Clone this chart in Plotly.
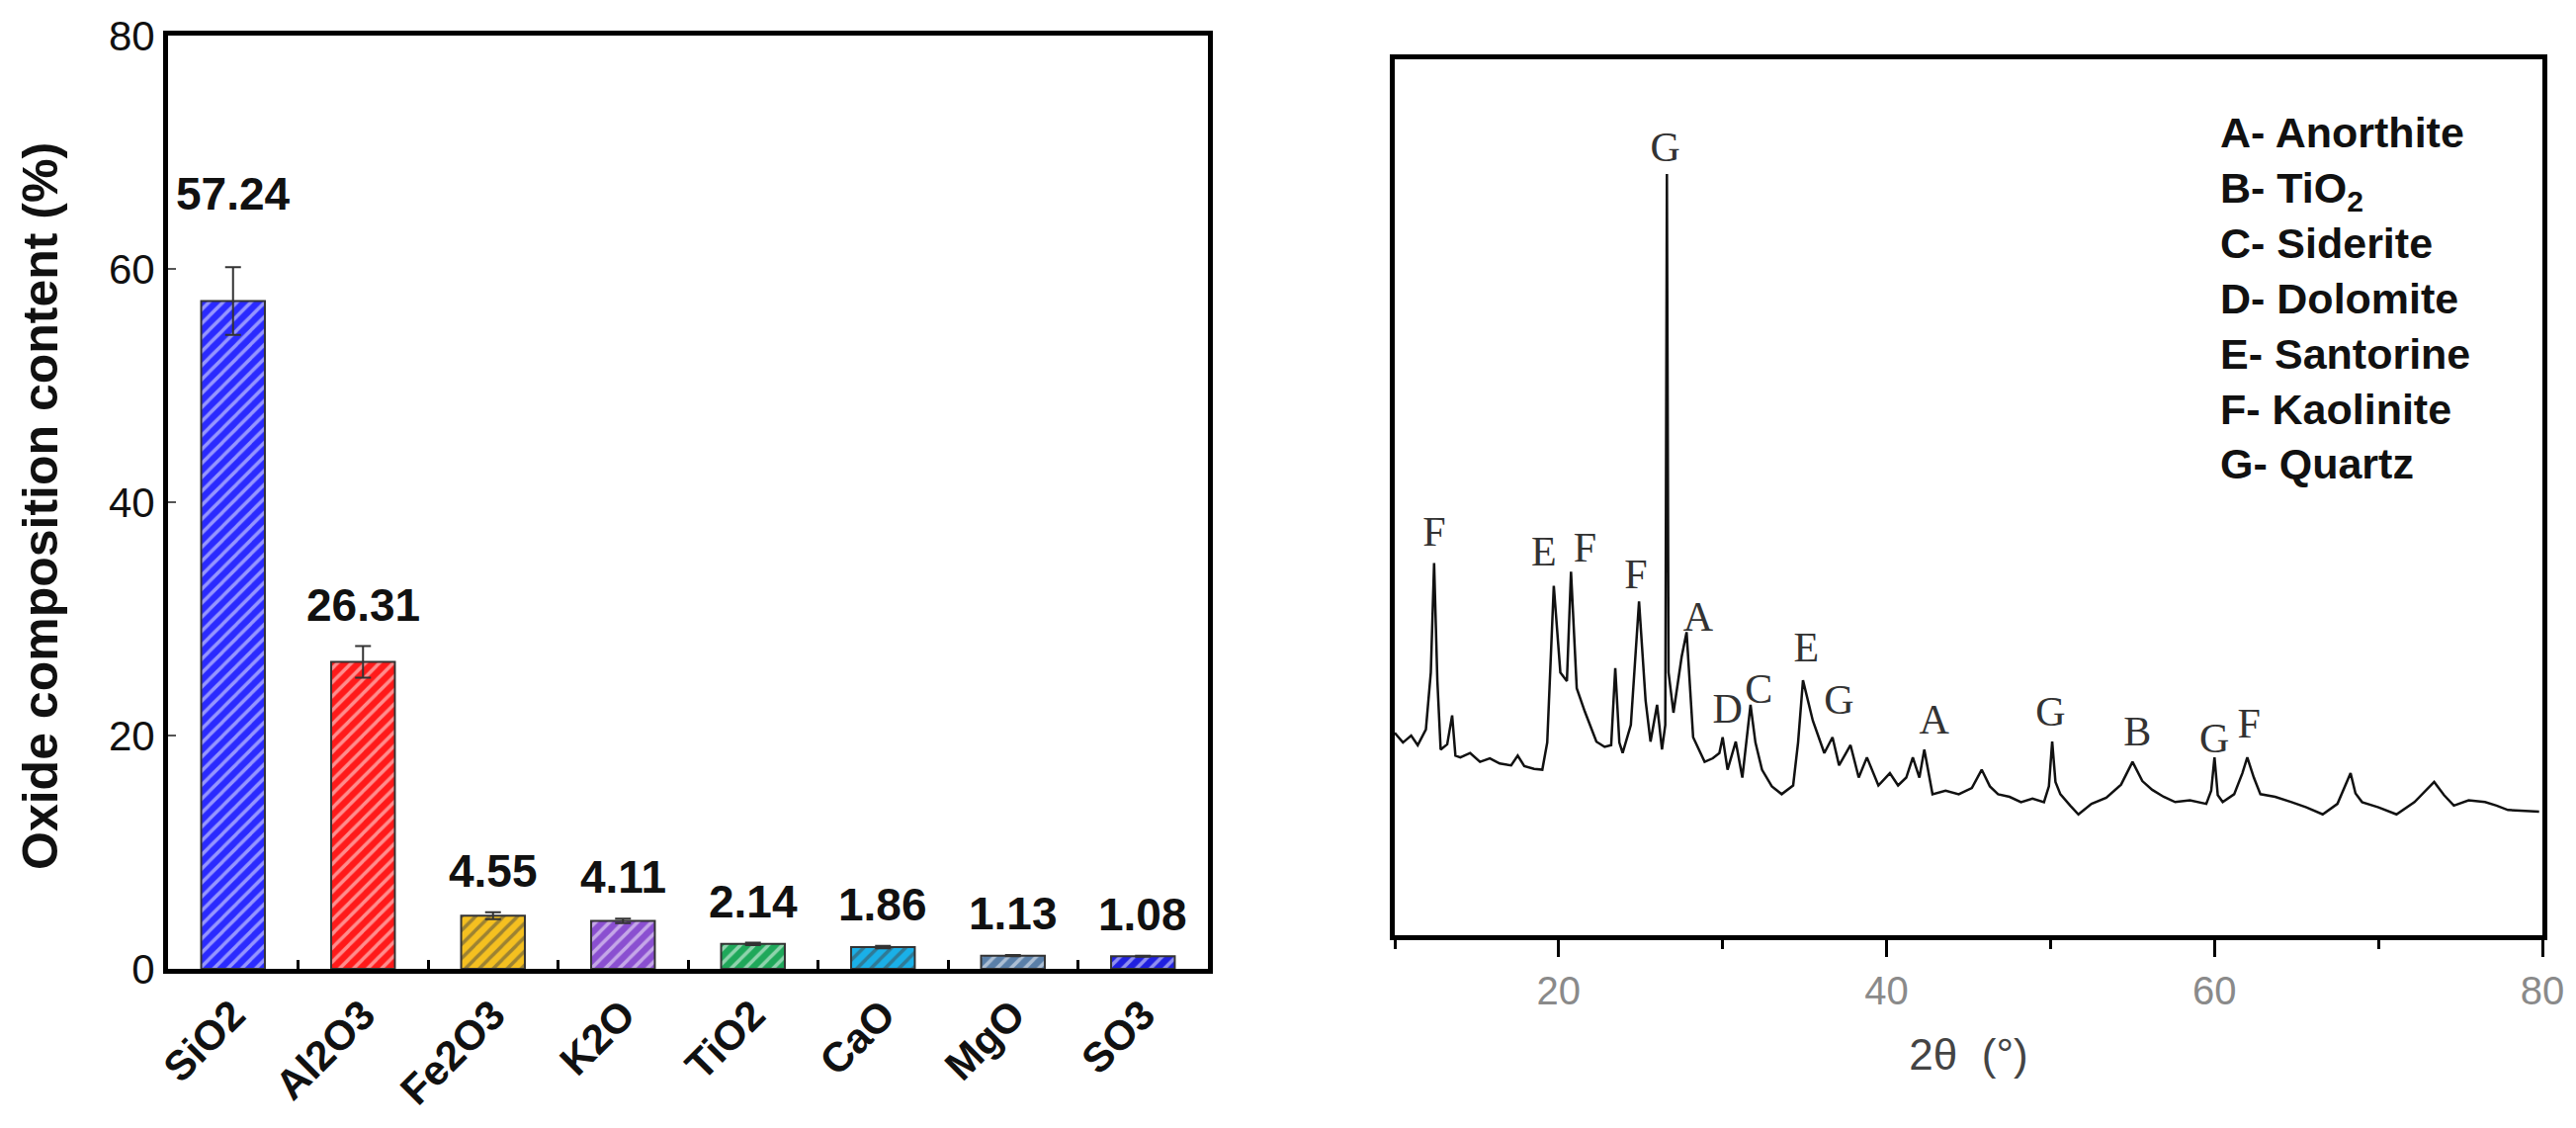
import plotly.graph_objects as go

# oxide composition (left panel)
oxides = ["SiO2", "Al2O3", "Fe2O3", "K2O", "TiO2", "CaO", "MgO", "SO3"]
contents = [57.24, 26.31, 4.55, 4.11, 2.14, 1.86, 1.13, 1.08]
errors = [2.9, 1.35, 0.3, 0.2, 0.1, 0.1, 0.05, 0.05]
bar_colors = ["#2a2aff", "#ff1a1a", "#f5c020", "#8a4fd0",
              "#1fa85a", "#1ab0e8", "#5a7fa8", "#2020e0"]

# XRD pattern (right panel)
two_theta = [10.0, 10.5, 11.0, 11.4, 11.9, 12.2, 12.4, 12.6, 12.8, 13.2, 13.5, 13.7, 14.0,
             14.6, 15.2, 15.8, 16.4, 17.1, 17.5, 17.9, 18.5, 19.0, 19.3, 19.7, 20.1, 20.5,
             20.75, 21.1, 21.6, 22.3, 22.8, 23.2, 23.45, 23.7, 23.9, 24.4, 24.9, 25.3, 25.6,
             26.0, 26.3, 26.5, 26.6, 26.7, 27.0, 27.5, 27.8, 28.0, 28.2, 28.9, 29.4, 29.8,
             30.0, 30.3, 30.8, 31.2, 31.7, 32.0, 32.4, 33.0, 33.6, 34.3, 34.6, 34.9, 35.5,
             36.2, 36.7, 37.1, 37.8, 38.3, 38.8, 39.5, 40.2, 40.7, 41.2, 41.6, 42.0, 42.3,
             42.8, 43.6, 44.4, 45.2, 45.8, 46.3, 46.8, 47.5, 48.2, 48.9, 49.6, 49.9, 50.1,
             50.3, 50.6, 51.2, 51.7, 52.5, 53.4, 54.3, 55.0, 55.6, 56.2, 56.9, 57.6, 58.5,
             59.5, 59.8, 60.0, 60.2, 60.5, 61.2, 61.7, 62.0, 62.4, 62.8, 63.7, 64.7, 65.6,
             66.6, 67.5, 68.3, 68.6, 69.0, 70.0, 71.1, 72.2, 73.4, 74.0, 74.6, 75.5, 76.5,
             77.2, 77.9, 78.8, 79.8]
intensity = [23.1, 22.0, 22.8, 21.7, 23.5, 30.0, 42.5, 29.0, 21.2, 21.8, 25.1, 20.5, 20.3,
             20.8, 19.8, 20.2, 19.6, 19.4, 20.5, 19.3, 19.0, 18.9, 22.0, 39.9, 30.0, 29.0,
             41.5, 28.2, 25.5, 22.1, 21.5, 21.7, 30.5, 22.0, 20.8, 24.0, 38.1, 26.8, 22.1,
             26.3, 21.2, 24.0, 86.9, 30.0, 25.4, 31.8, 34.6, 29.0, 22.6, 19.8, 20.2, 20.8,
             22.6, 18.9, 22.1, 18.0, 26.3, 22.0, 18.9, 17.0, 16.1, 17.1, 22.0, 29.1, 24.5,
             20.8, 22.6, 19.4, 21.7, 18.0, 20.3, 17.1, 18.5, 17.1, 18.0, 20.3, 18.0, 21.2,
             16.1, 16.5, 16.1, 16.8, 18.9, 17.0, 16.1, 15.8, 15.2, 15.6, 15.2, 17.0, 22.1,
             17.5, 16.1, 14.8, 13.8, 15.0, 15.7, 17.2, 19.8, 17.6, 16.6, 15.8, 15.2, 15.4,
             15.0, 16.5, 20.3, 16.0, 15.2, 16.1, 18.5, 20.3, 18.0, 16.1, 15.8, 15.2, 14.6,
             13.8, 15.0, 18.5, 16.2, 15.2, 14.6, 13.8, 15.2, 17.5, 16.0, 14.8, 15.4, 15.2,
             14.8, 14.3, 14.2, 14.1]

peak_letters = ["F", "E", "F", "F", "G", "A", "D", "C", "E", "G", "A", "G", "B", "G", "F"]
peak_theta = [12.4, 19.1, 21.6, 24.7, 26.5, 28.5, 30.3, 32.2, 35.1, 37.1, 42.9, 50.0, 55.3, 60.0, 62.1]
peak_label_y = [45.7, 43.4, 43.8, 40.8, 89.6, 36.0, 25.4, 27.7, 32.5, 26.5, 24.2, 25.1, 22.8, 22.1, 23.8]

phases = ["A- Anorthite", "B- TiO<sub>2</sub>", "C- Siderite", "D- Dolomite",
          "E- Santorine", "F- Kaolinite", "G- Quartz"]

W, H = 2606, 1141
OFF = 8  # the page body adds an 8px margin
narrow = "Liberation Sans Narrow, Arial Narrow, Liberation Sans, Arial"
sans = "Liberation Sans, Arial"
serif = "Liberation Serif, Times New Roman"


def px_x(x):
    return (x - OFF) / W


def px_y(y):
    return 1 - (y - OFF) / H


fig = go.Figure()

fig.add_trace(go.Bar(
    x=oxides, y=contents,
    width=0.49,
    marker=dict(
        color=bar_colors,
        line=dict(color="#333333", width=2),
        pattern=dict(shape="/", fgcolor="white", size=10, solidity=0.35, fillmode="overlay"),
    ),
    error_y=dict(type="data", array=errors, color="#333333", thickness=2, width=8),
    xaxis="x", yaxis="y",
    showlegend=False,
))

fig.add_trace(go.Scatter(
    x=two_theta, y=intensity,
    mode="lines",
    line=dict(color="#111111", width=2.5),
    xaxis="x2", yaxis="y2",
    showlegend=False,
))

fig.add_trace(go.Scatter(
    x=peak_theta, y=peak_label_y,
    mode="text", text=peak_letters,
    textfont=dict(family=serif, size=42, color="#333333"),
    xaxis="x2", yaxis="y2",
    showlegend=False,
))

annotations = []
# value labels above the bars (the SiO2 one sits higher in the original)
for ox, v, e in zip(oxides, contents, errors):
    annotations.append(dict(
        x=ox, y=v + e, xref="x", yref="y",
        text="%.2f" % v, showarrow=False,
        yanchor="bottom", yshift=46 if ox == "SiO2" else 14,
        font=dict(family=sans, size=46, color="#111111", weight="bold"),
    ))

annotations.append(dict(
    x=px_x(41), y=px_y(512), xref="paper", yref="paper",
    xanchor="center", yanchor="middle",
    text="<b>Oxide composition content (%)</b>", textangle=-90,
    showarrow=False, font=dict(family=sans, size=50, color="#111111"),
))

annotations.append(dict(
    x=px_x(2244), y=px_y(108), xref="paper", yref="paper",
    xanchor="left", yanchor="top", align="left",
    text="<br>".join("<b>%s</b>" % p for p in phases),
    showarrow=False,
    font=dict(family=narrow, size=43, color="#111111"),
))

frame = dict(showline=True, linecolor="black", linewidth=5, mirror=True,
             showgrid=False, zeroline=False, automargin=False)

fig.update_layout(
    width=W, height=H,
    margin=dict(l=0, r=0, t=0, b=0),
    paper_bgcolor="white", plot_bgcolor="white",
    annotations=annotations,
    xaxis=dict(
        domain=[px_x(170), px_x(1222)], anchor="y",
        tickson="boundaries", ticks="inside", ticklen=9, tickwidth=3, tickcolor="black",
        tickangle=-45,
        tickfont=dict(family=sans, size=42, color="#111111", weight="bold"),
        **frame,
    ),
    yaxis=dict(
        domain=[px_y(980), px_y(36)], anchor="x",
        range=[0, 80], tickvals=[0, 20, 40, 60, 80],
        ticks="inside", ticklen=8, tickwidth=2, tickcolor="#555555",
        tickfont=dict(family=narrow, size=42, color="#111111"),
        **frame,
    ),
    xaxis2=dict(
        domain=[px_x(1411), px_x(2572)], anchor="y2",
        range=[10, 80], tick0=0, dtick=20,
        ticks="outside", ticklen=17, tickwidth=3, tickcolor="black",
        minor=dict(dtick=10, tick0=0, ticks="outside", ticklen=9, tickwidth=3, tickcolor="black"),
        tickfont=dict(family=narrow, size=40, color="#8a8a8a"),
        title=dict(text="2θ  (°)", standoff=30,
                   font=dict(family=narrow, size=44, color="#444444")),
        **frame,
    ),
    yaxis2=dict(
        domain=[px_y(946), px_y(60)], anchor="x2",
        range=[0, 100], showticklabels=False, ticks="",
        **frame,
    ),
)

fig.write_html("out.html")
